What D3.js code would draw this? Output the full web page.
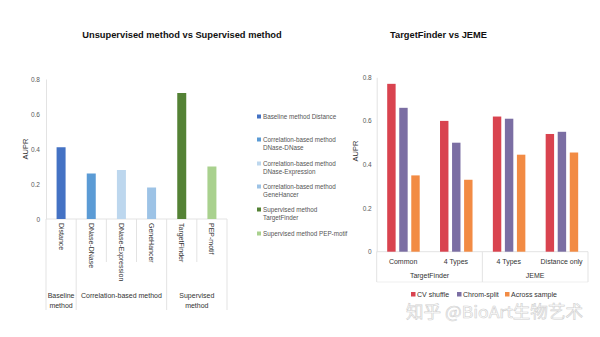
<!DOCTYPE html>
<html>
<head>
<meta charset="utf-8">
<script src="https://cdn.jsdelivr.net/npm/d3@7"></script>
<style>
  html, body { margin: 0; padding: 0; background: #fff; }
  svg { display: block; font-family: "Liberation Sans", Arial, sans-serif; }
</style>
</head>
<body>
<svg id="chart" width="600" height="337"></svg>
<script>
// ---- Left panel data: AUPR per method ----
const methods = ["Distance", "DNase-DNase", "DNase-Expression", "GeneHancer", "TargetFinder", "PEP-motif"];
const methodAUPR = [0.41, 0.26, 0.28, 0.18, 0.72, 0.30];
const methodColors = ["#4472c4", "#5b9bd5", "#bdd7ee", "#9dc3e6", "#548235", "#a9d18e"];
const methodGroups = [
  { lines: ["Baseline", "method"], from: 0, to: 0 },
  { lines: ["Correlation-based method"], from: 1, to: 3 },
  { lines: ["Supervised", "method"], from: 4, to: 5 }
];
const methodLegend = [
  ["Baseline method Distance"],
  ["Correlation-based method", "DNase-DNase"],
  ["Correlation-based method", "DNase-Expression"],
  ["Correlation-based method", "GeneHancer"],
  ["Supervised method", "TargetFinder"],
  ["Supervised method PEP-motif"]
];

// ---- Right panel data: AUPR per evaluation setting ----
const settings = ["Common", "4 Types", "4 Types ", "Distance only"];
const settingLabels = ["Common", "4 Types", "4 Types", "Distance only"];
const splitNames = ["CV shuffle", "Chrom-split", "Across sample"];
const cvShuffle = [0.77, 0.60, 0.62, 0.54];
const chromSplit = [0.66, 0.50, 0.61, 0.55];
const acrossSample = [0.35, 0.33, 0.445, 0.455];
const splitColors = ["#d9434f", "#7b6ea3", "#f28b44"];
const toolGroups = [
  { name: "TargetFinder", from: 0, to: 1 },
  { name: "JEME", from: 2, to: 3 }
];
const yTicks = [0, 0.2, 0.4, 0.6, 0.8];

const svg = d3.select("#chart");
const gridColor = "#e3e3e3";
const tickColor = "#595959";

// ================= Left panel =================
{
  const x = d3.scaleBand().domain(methods).range([46, 227]).paddingInner(0).paddingOuter(0);
  const y = d3.scaleLinear().domain([0, 0.8]).range([219, 79]);
  const g = svg.append("g");

  g.append("text").attr("x", 182).attr("y", 38).attr("text-anchor", "middle")
    .attr("font-size", 9.3).attr("font-weight", "bold").attr("fill", "#111")
    .text("Unsupervised method vs Supervised method");

  // y axis
  const yAxis = d3.axisLeft(y).tickValues(yTicks).tickSize(0).tickPadding(6)
    .tickFormat(d => d === 0 ? "0" : d3.format(".1f")(d));
  const ya = g.append("g").attr("transform", "translate(46,0)").call(yAxis);
  ya.select(".domain").attr("stroke", gridColor);
  ya.selectAll("text").attr("font-size", 6.5).attr("fill", tickColor)
    .attr("font-family", "Liberation Sans, Arial, sans-serif");

  g.append("text").attr("transform", "translate(28,149) rotate(-90)")
    .attr("text-anchor", "middle").attr("font-size", 7.5).attr("fill", "#333").text("AUPR");

  // category box
  g.append("line").attr("x1", 46).attr("x2", 227).attr("y1", y(0)).attr("y2", y(0)).attr("stroke", gridColor);
  const groupStarts = new Set(methodGroups.map(d => d.from));
  methods.forEach((m, i) => {
    const xl = x(m);
    const long = groupStarts.has(i);
    g.append("line").attr("x1", xl).attr("x2", xl).attr("y1", y(0))
      .attr("y2", long ? 310 : 262).attr("stroke", gridColor);
  });
  g.append("line").attr("x1", 227).attr("x2", 227).attr("y1", y(0)).attr("y2", 310).attr("stroke", gridColor);

  // bars
  const bw = 9;
  g.selectAll("rect.bar").data(methods).join("rect").attr("class", "bar")
    .attr("x", d => x(d) + x.bandwidth() / 2 - bw / 2)
    .attr("width", bw)
    .attr("y", (d, i) => y(methodAUPR[i]))
    .attr("height", (d, i) => y(0) - y(methodAUPR[i]))
    .attr("fill", (d, i) => methodColors[i]);

  // rotated category labels
  g.selectAll("text.cat").data(methods).join("text").attr("class", "cat")
    .attr("transform", d => `translate(${x(d) + x.bandwidth() / 2 - 2.5},223) rotate(90)`)
    .attr("font-size", 7).attr("fill", "#333").text(d => d);

  // group labels
  methodGroups.forEach(grp => {
    const cx = (x(methods[grp.from]) + x(methods[grp.to]) + x.bandwidth()) / 2;
    grp.lines.forEach((ln, k) => {
      g.append("text").attr("x", cx).attr("y", 298 + k * 9.5).attr("text-anchor", "middle")
        .attr("font-size", 7).attr("fill", "#333").text(ln);
    });
  });

  // legend
  const ly = [119, 142, 166, 189, 212, 236];
  methodLegend.forEach((lines, i) => {
    g.append("rect").attr("x", 257).attr("y", ly[i] - 4.5).attr("width", 4).attr("height", 4)
      .attr("fill", methodColors[i]);
    lines.forEach((ln, k) => {
      g.append("text").attr("x", 263).attr("y", ly[i] + k * 8).attr("font-size", 6.3)
        .attr("fill", "#555").text(ln);
    });
  });
}

// ================= Right panel =================
{
  const x0 = d3.scaleBand().domain(settings).range([376.7, 588]).paddingInner(0).paddingOuter(0);
  const x1 = d3.scaleBand().domain(splitNames).range([10.5, 43]).paddingInner(0.3);
  const y = d3.scaleLinear().domain([0, 0.8]).range([251.7, 77.3]);
  const series = [cvShuffle, chromSplit, acrossSample];
  const g = svg.append("g");

  g.append("text").attr("x", 438.5).attr("y", 38).attr("text-anchor", "middle")
    .attr("font-size", 9.3).attr("font-weight", "bold").attr("fill", "#111")
    .text("TargetFinder vs JEME");

  const yAxis = d3.axisLeft(y).tickValues(yTicks).tickSize(0).tickPadding(5)
    .tickFormat(d => d === 0 ? "0" : d3.format(".1f")(d));
  const ya = g.append("g").attr("transform", "translate(376.7,0)").call(yAxis);
  ya.select(".domain").attr("stroke", gridColor);
  ya.selectAll("text").attr("font-size", 6.5).attr("fill", tickColor)
    .attr("font-family", "Liberation Sans, Arial, sans-serif");

  g.append("text").attr("transform", "translate(357.5,151) rotate(-90)")
    .attr("text-anchor", "middle").attr("font-size", 7.5).attr("fill", "#333").text("AUPR");

  // category box
  g.append("line").attr("x1", 376.7).attr("x2", 588).attr("y1", y(0)).attr("y2", y(0)).attr("stroke", gridColor);
  g.append("line").attr("x1", 376.7).attr("x2", 588).attr("y1", 282).attr("y2", 282).attr("stroke", "#efefef");
  [376.7, x0(settings[2]), 588].forEach(xv => {
    g.append("line").attr("x1", xv).attr("x2", xv).attr("y1", y(0)).attr("y2", 282).attr("stroke", gridColor);
  });

  // bars
  settings.forEach((s, i) => {
    splitNames.forEach((sp, j) => {
      g.append("rect")
        .attr("x", x0(s) + x1(sp))
        .attr("width", x1.bandwidth())
        .attr("y", y(series[j][i]))
        .attr("height", y(0) - y(series[j][i]))
        .attr("fill", splitColors[j]);
    });
  });

  // category labels
  settings.forEach((s, i) => {
    g.append("text").attr("x", x0(s) + x0.bandwidth() / 2).attr("y", 264)
      .attr("text-anchor", "middle").attr("font-size", 7).attr("fill", "#333").text(settingLabels[i]);
  });
  toolGroups.forEach(grp => {
    const cx = (x0(settings[grp.from]) + x0(settings[grp.to]) + x0.bandwidth()) / 2;
    g.append("text").attr("x", cx).attr("y", 277.5).attr("text-anchor", "middle")
      .attr("font-size", 7).attr("fill", "#333").text(grp.name);
  });

  // legend
  const lx = [411, 457, 505];
  splitNames.forEach((sp, j) => {
    g.append("rect").attr("x", lx[j]).attr("y", 292).attr("width", 4.5).attr("height", 4.5)
      .attr("fill", splitColors[j]);
    g.append("text").attr("x", lx[j] + 6).attr("y", 297).attr("font-size", 7)
      .attr("fill", "#333").text(sp);
  });
}

// watermark
svg.append("text").attr("x", 406).attr("y", 318)
  .attr("font-family", "Noto Sans CJK SC, sans-serif").attr("font-size", 16.5)
  .attr("fill", "#ffffff").attr("stroke", "#d0d0d0").attr("stroke-width", 0.6)
  .attr("textLength", 177).attr("lengthAdjust", "spacingAndGlyphs")
  .text("知乎 @BioArt生物艺术");
</script>
</body>
</html>
